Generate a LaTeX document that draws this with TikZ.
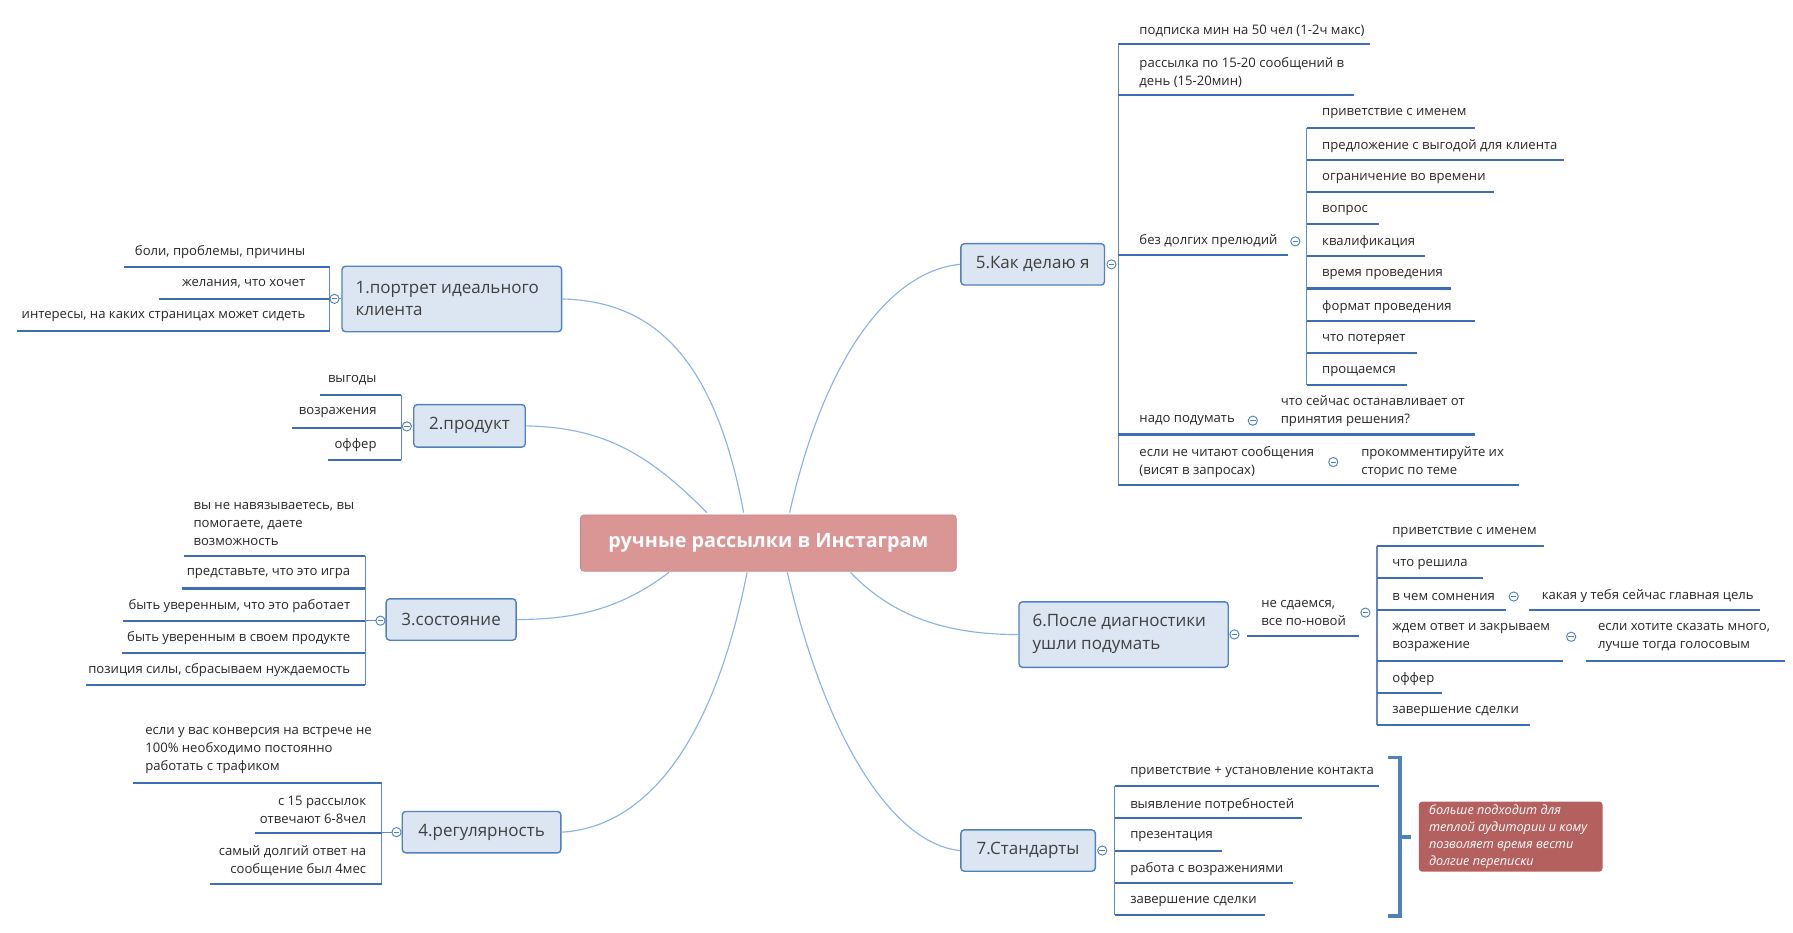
\documentclass[tikz,border=0pt]{standalone}
\usepackage{fontspec}
\setmainfont{Open Sans}
\usetikzlibrary{positioning}
\definecolor{topicfill}{HTML}{DCE6F2}
\definecolor{topicline}{HTML}{4F81BD}
\definecolor{leafline}{HTML}{3D6DB3}
\definecolor{curveline}{HTML}{8DB3E2}
\definecolor{centerfill}{HTML}{D99694}
\definecolor{notefill}{HTML}{B3605E}
\tikzset{
  topic/.style={draw=topicline, fill=topicfill, rounded corners=1.5pt, line width=0.6pt,
    font=\fontsize{7.4}{9.6}\selectfont, text=black!75, align=left, inner sep=0pt, anchor=north west},
  topictext/.style={font=\fontsize{7.4}{9.6}\selectfont, text=black!75, align=left, inner sep=0pt, anchor=west},
  leaf/.style={font=\fontsize{5.7}{7.8}\selectfont, text=black!85, inner sep=0pt, align=left},
  uline/.style={draw=leafline, line width=0.9pt},
  branch/.style={draw=leafline!80, line width=0.5pt},
  curve/.style={draw=curveline, line width=0.5pt},
  fold/.style={circle, draw=topicline, fill=white, inner sep=0pt, minimum size=4pt, line width=0.4pt,
    path picture={\draw[topicline, line width=0.4pt] ([xshift=-1.2pt]path picture bounding box.center) -- ([xshift=1.2pt]path picture bounding box.center);}}
}
\begin{document}
\begin{tikzpicture}[x=0.5pt, y=-0.5pt]
\useasboundingbox (0,0) rectangle (1560,811);
% center
\node[fill=centerfill, draw=centerfill!90!black, line width=0.3pt, rounded corners=1.5pt, minimum width=163.5pt, minimum height=24.5pt,
  font=\bfseries\fontsize{8.6}{10}\selectfont, text=white] (root) at (668.5,472.5) {ручные рассылки в Инстаграм};
% topics
\node[topic, minimum width=95.5pt, minimum height=28.5pt] (t1) at (297,231) {};
\node[topictext] (t1text) at (309,259.5) {1.портрет идеального\\клиента};
\node[topic, minimum width=48.5pt, minimum height=18.5pt, anchor=center] (t2) at (408.5,370.5) {2.продукт};
\node[topic, minimum width=56.5pt, minimum height=18pt, anchor=center] (t3) at (392.5,539) {3.состояние};
\node[topic, minimum width=69pt, minimum height=18pt, anchor=center] (t4) at (419,724) {4.регулярность};
\node[topic, minimum width=62.5pt, minimum height=18pt, anchor=center] (t5) at (898.5,230) {5.Как делаю я};
\node[topic, minimum width=91pt, minimum height=28.5pt] (t6) at (886,523) {};
\node[topictext] (t6text) at (898,551.5) {6.После диагностики\\ушли подумать};
\node[topic, minimum width=58.5pt, minimum height=18pt, anchor=center] (t7) at (894.5,740) {7.Стандарты};
% curves from center
\draw[curve] (647,446) .. controls (620,300) and (560,262) .. (t1.east);
\draw[curve] (615,446) .. controls (560,390) and (520,372) .. (t2.east);
\draw[curve] (582,498) .. controls (540,530) and (500,539) .. (t3.east);
\draw[curve] (650,498) .. controls (620,650) and (560,720) .. (t4.east);
\draw[curve] (687,446) .. controls (720,300) and (780,235) .. (t5.west);
\draw[curve] (740,498) .. controls (780,540) and (830,552) .. (t6.west);
\draw[curve] (685,498) .. controls (720,650) and (780,735) .. (t7.west);
% 1
\draw[branch] (287,232) -- (287,288);
\draw[branch] (287,260) -- (t1.west |- 0,260);
\draw[uline] (108,232) -- (287,232); \draw[uline] (138,260) -- (287,260); \draw[uline] (15,288) -- (287,288);
\node[fold] (f1) at (291,260) {};
\node[leaf, anchor=east] (l11) at (266,219) {боли, проблемы, причины};
\node[leaf, anchor=east] (l12) at (266,247) {желания, что хочет};
\node[leaf, anchor=east] (l13) at (266,275) {интересы, на каких страницах может сидеть};
% 2
\draw[branch] (349,344) -- (349,400);
\draw[uline] (278,344) -- (349,344); \draw[uline] (254,372) -- (349,372); \draw[uline] (285,400) -- (349,400);
\node[fold] (f2) at (354,371) {};
\node[leaf, anchor=east] (l21) at (328,331) {выгоды};
\node[leaf, anchor=east] (l22) at (328,359) {возражения};
\node[leaf, anchor=east] (l23) at (328,387) {оффер};
% 3
\draw[branch] (318,484) -- (318,596);
\draw[branch] (318,540) -- (331,540);
\draw[uline] (160,484) -- (318,484); \draw[uline] (158,512) -- (318,512); \draw[uline] (107,540) -- (318,540);
\draw[uline] (106,568) -- (318,568); \draw[uline] (75,596) -- (318,596);
\node[fold] (f3) at (331,540) {};
\node[leaf, anchor=west] (l31) at (168,456) {вы не навязываетесь, вы\\помогаете, даете\\возможность};
\node[leaf, anchor=east] (l32) at (305,499) {представьте, что это игра};
\node[leaf, anchor=east] (l33) at (305,527) {быть уверенным, что это работает};
\node[leaf, anchor=east] (l34) at (305,555) {быть уверенным в своем продукте};
\node[leaf, anchor=east] (l35) at (305,583) {позиция силы, сбрасываем нуждаемость};
% 4
\draw[branch] (332,681) -- (332,769);
\draw[branch] (332,724) -- (345,724);
\draw[uline] (116,681) -- (332,681); \draw[uline] (222,725) -- (332,725); \draw[uline] (183,769) -- (332,769);
\node[fold] (f4) at (345,724) {};
\node[leaf, anchor=west] (l41) at (126,653) {если у вас конверсия на встрече не\\100\% необходимо постоянно\\работать с трафиком};
\node[leaf, anchor=east, align=right] (l42) at (319,705) {с 15 рассылок\\отвечают 6-8чел};
\node[leaf, anchor=east, align=right] (l43) at (319,749) {самый долгий ответ на\\сообщение был 4мес};
% 5
\draw[branch] (973,38) -- (973,422);
\node[fold] (f5) at (967,230) {};
\draw[uline] (973,38) -- (1192,38); \draw[uline] (973,83) -- (1178,83); \draw[uline] (973,222) -- (1121,222);
\draw[uline] (973,378) -- (1283,378); \draw[uline] (973,422) -- (1322,422);
\node[leaf, anchor=west] (l51) at (991,27) {подписка мин на 50 чел (1-2ч макс)};
\node[leaf, anchor=west] (l52) at (991,63) {рассылка по 15-20 сообщений в\\день (15-20мин)};
\node[leaf, anchor=west] (l53) at (991,210) {без долгих прелюдий};
\node[fold] (f53) at (1127,210) {};
\draw[branch] (1137,111) -- (1137,335);
\foreach \y/\xe/\t in {99/1283/приветствие с именем, 127/1361/предложение с выгодой для клиента,
  155/1300/ограничение во времени, 183/1200/вопрос, 211/1240/квалификация, 239/1262/время проведения,
  267/1283/формат проведения, 295/1233/что потеряет, 323/1224/прощаемся}{
  \draw[uline] (1137,\y+12) -- (\xe,\y+12);
  \node[leaf, anchor=west] at (1150,\y) {\t};
}
\node[leaf, anchor=west] (l54) at (991,366) {надо подумать};
\node[fold] (f54) at (1090,366) {};
\node[leaf, anchor=west] (l541) at (1114,358) {что сейчас останавливает от\\принятия решения?};
\node[leaf, anchor=west] (l55) at (991,402) {если не читают сообщения\\(висят в запросах)};
\node[fold] (f55) at (1160,402) {};
\node[leaf, anchor=west] (l551) at (1184,402) {прокомментируйте их\\сторис по теме};
% 6
\draw[uline] (1085,553) -- (1182,553);
\node[fold] (f6) at (1074,552) {};
\node[leaf, anchor=west] (l6) at (1097,533) {не сдаемся,\\все по-новой};
\node[fold] (f61) at (1188,533) {};
\draw[branch] (1198,475) -- (1198,631);
\foreach \y/\xe/\t in {463/1343/приветствие с именем, 491/1290/что решила, 519/1310/в чем сомнения,
  591/1255/оффер, 619/1331/завершение сделки}{
  \draw[uline] (1198,\y+12) -- (\xe,\y+12);
  \node[leaf, anchor=west] at (1211,\y) {\t};
}
\node[fold] (f62) at (1317,519) {};
\draw[uline] (1330,531) -- (1531,531);
\node[leaf, anchor=west] (l621) at (1341,519) {какая у тебя сейчас главная цель};
\draw[uline] (1198,575) -- (1360,575);
\node[leaf, anchor=west] (l63) at (1211,555) {ждем ответ и закрываем\\возражение};
\node[fold] (f63) at (1367,554) {};
\draw[uline] (1380,575) -- (1553,575);
\node[leaf, anchor=west] (l631) at (1390,555) {если хотите сказать много,\\лучше тогда голосовым};
% 7
\draw[branch] (970,684) -- (970,796);
\node[fold] (f7) at (959,740) {};
\foreach \y/\xe/\t in {672/1200/приветствие + установление контакта, 700/1133/выявление потребностей,
  728/1063/презентация, 756/1125/работа с возражениями, 784/1101/завершение сделки}{
  \draw[uline] (970,\y+12) -- (\xe,\y+12);
  \node[leaf, anchor=west] at (983,\y) {\t};
}
\draw[topicline, line width=1.6pt] (1208,659) -- (1218,659) -- (1218,797) -- (1208,797);
\draw[topicline, line width=1.6pt] (1218,728) -- (1228,728);
\node[fill=notefill, rounded corners=1.5pt, minimum width=80pt, minimum height=30.5pt, anchor=north west] (note) at (1234,697) {};
\node[font=\itshape\fontsize{5.5}{7.4}\selectfont, text=white, align=left, anchor=west, inner sep=0pt] at (1243,727.5)
  {больше подходит для\\теплой аудитории и кому\\позволяет время вести\\долгие переписки};
\end{tikzpicture}
\end{document}
